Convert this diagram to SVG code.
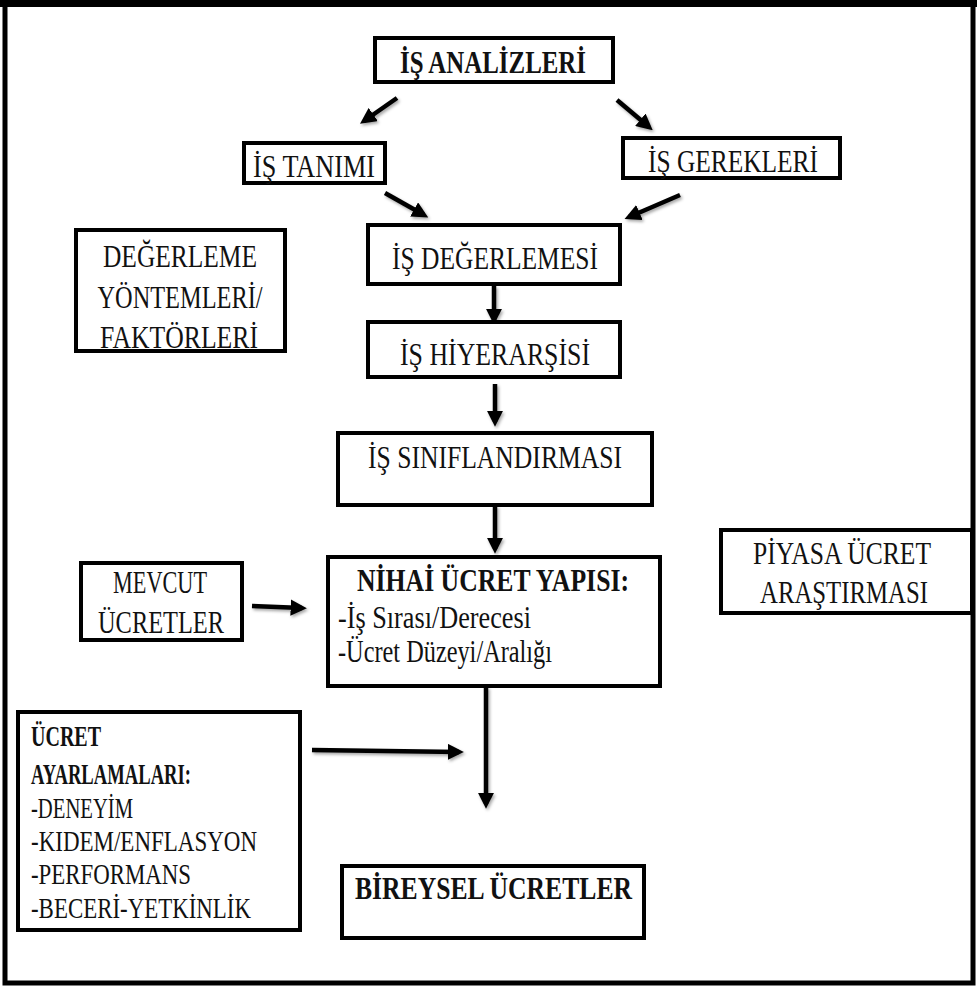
<svg xmlns="http://www.w3.org/2000/svg" width="977" height="988" viewBox="0 0 977 988">
<style>
.box{fill:#fff;stroke:#000;stroke-width:4}
.t{font-family:"Liberation Serif","Times New Roman",serif;font-size:32px;fill:#111}
.s{font-size:29px}
.b{font-weight:bold}
.c{text-anchor:middle}
.arr{stroke:#000;stroke-width:4.5;fill:none;marker-end:url(#ah)}
</style>
<defs>
<marker id="ah" viewBox="0 0 10 10" refX="7" refY="5" markerWidth="3.6" markerHeight="3.6" orient="auto" markerUnits="strokeWidth">
<path d="M0,0 L10,5 L0,10 z" fill="#000"/>
</marker>
<filter id="sh" x="-20%" y="-20%" width="140%" height="140%">
<feDropShadow dx="1.5" dy="2" stdDeviation="1.5" flood-color="#000" flood-opacity="0.35"/>
</filter>
</defs>
<rect x="0" y="0" width="977" height="988" fill="#fff"/>
<rect x="5" y="4" width="968" height="979" fill="none" stroke="#000" stroke-width="5"/>
<rect x="0" y="0" width="977" height="7" fill="#000"/>

<g id="connectors" filter="url(#sh)">
<line class="arr" x1="397" y1="98" x2="364" y2="121"/>
<line class="arr" x1="617" y1="100" x2="649" y2="127"/>
<line class="arr" x1="385" y1="193" x2="424" y2="215"/>
<line class="arr" x1="680" y1="195" x2="629" y2="217"/>
<line class="arr" x1="494" y1="286" x2="494" y2="320"/>
<line class="arr" x1="495" y1="384" x2="495" y2="422"/>
<line class="arr" x1="495" y1="506" x2="495" y2="549"/>
<line class="arr" x1="252" y1="606" x2="302" y2="608"/>
<line class="arr" x1="486" y1="687" x2="486" y2="804"/>
<line class="arr" x1="312" y1="750" x2="459" y2="752"/>
</g>

<g id="is-analizleri">
<rect class="box" x="375" y="38" width="238" height="44"/>
<text class="t b c" x="493" y="73" textLength="186" lengthAdjust="spacingAndGlyphs">İŞ ANALİZLERİ</text>
</g>
<g id="is-tanimi">
<rect class="box" x="244" y="143" width="141" height="40"/>
<text class="t c" x="314" y="177" textLength="122" lengthAdjust="spacingAndGlyphs">İŞ TANIMI</text>
</g>
<g id="is-gerekleri">
<rect class="box" x="623" y="138" width="217" height="40"/>
<text class="t c" x="733" y="172" textLength="170" lengthAdjust="spacingAndGlyphs">İŞ GEREKLERİ</text>
</g>
<g id="degerleme-yontemleri">
<rect class="box" x="76" y="230" width="209" height="121"/>
<text class="t c" x="180" y="267" textLength="154" lengthAdjust="spacingAndGlyphs">DEĞERLEME</text>
<text class="t c" x="180" y="308" textLength="165" lengthAdjust="spacingAndGlyphs">YÖNTEMLERİ/</text>
<text class="t c" x="179" y="348" textLength="158" lengthAdjust="spacingAndGlyphs">FAKTÖRLERİ</text>
</g>
<g id="is-degerlemesi">
<rect class="box" x="368" y="225" width="252" height="59"/>
<text class="t c" x="495" y="269" textLength="206" lengthAdjust="spacingAndGlyphs">İŞ DEĞERLEMESİ</text>
</g>
<g id="is-hiyerarsisi">
<rect class="box" x="368" y="322" width="252" height="55"/>
<text class="t c" x="495" y="365" textLength="190" lengthAdjust="spacingAndGlyphs">İŞ HİYERARŞİSİ</text>
</g>
<g id="is-siniflandirmasi">
<rect class="box" x="338" y="433" width="314" height="72"/>
<text class="t c" x="495" y="468" textLength="254" lengthAdjust="spacingAndGlyphs">İŞ SINIFLANDIRMASI</text>
</g>
<g id="mevcut-ucretler">
<rect class="box" x="81" y="563" width="161" height="77"/>
<text class="t c" x="160" y="593" textLength="94" lengthAdjust="spacingAndGlyphs">MEVCUT</text>
<text class="t c" x="161" y="633" textLength="126" lengthAdjust="spacingAndGlyphs">ÜCRETLER</text>
</g>
<g id="nihai-ucret-yapisi">
<rect class="box" x="328" y="557" width="332" height="129"/>
<text class="t b" x="357" y="591" textLength="272" lengthAdjust="spacingAndGlyphs">NİHAİ ÜCRET YAPISI:</text>
<text class="t" x="338" y="628" textLength="193" lengthAdjust="spacingAndGlyphs">-İş Sırası/Derecesi</text>
<text class="t" x="338" y="662" textLength="214" lengthAdjust="spacingAndGlyphs">-Ücret Düzeyi/Aralığı</text>
</g>
<g id="piyasa-ucret-arastirmasi">
<rect class="box" x="721" y="530" width="251" height="83"/>
<text class="t c" x="842" y="564" textLength="178" lengthAdjust="spacingAndGlyphs">PİYASA ÜCRET</text>
<text class="t c" x="844" y="603" textLength="168" lengthAdjust="spacingAndGlyphs">ARAŞTIRMASI</text>
</g>
<g id="ucret-ayarlamalari">
<rect class="box" x="18" y="712" width="282" height="218"/>
<text class="t s b" x="31" y="746" textLength="70" lengthAdjust="spacingAndGlyphs">ÜCRET</text>
<text class="t s b" x="31" y="784" textLength="160" lengthAdjust="spacingAndGlyphs">AYARLAMALARI:</text>
<text class="t s" x="31" y="818" textLength="102" lengthAdjust="spacingAndGlyphs">-DENEYİM</text>
<text class="t s" x="31" y="851" textLength="226" lengthAdjust="spacingAndGlyphs">-KIDEM/ENFLASYON</text>
<text class="t s" x="31" y="884" textLength="160" lengthAdjust="spacingAndGlyphs">-PERFORMANS</text>
<text class="t s" x="31" y="918" textLength="220" lengthAdjust="spacingAndGlyphs">-BECERİ-YETKİNLİK</text>
</g>
<g id="bireysel-ucretler">
<rect class="box" x="342" y="866" width="302" height="72"/>
<text class="t b" x="355" y="899" textLength="277" lengthAdjust="spacingAndGlyphs">BİREYSEL ÜCRETLER</text>
</g>
</svg>
